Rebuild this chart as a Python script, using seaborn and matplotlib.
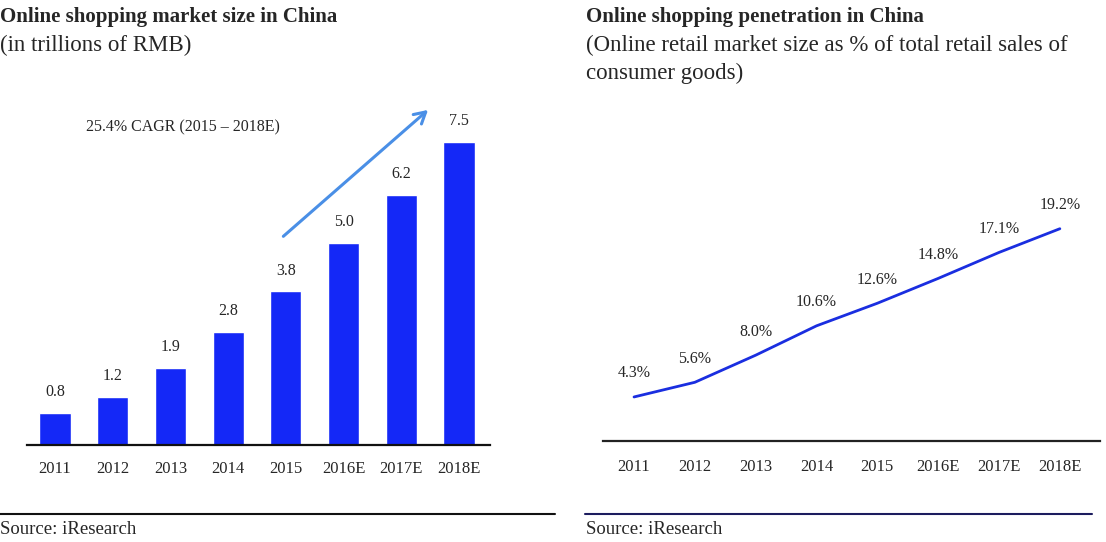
#!/usr/bin/env python3

import seaborn as sns
import pandas as pd
from matplotlib import pyplot as plt

# Data
years = ['2011', '2012', '2013', '2014', '2015', '2016E', '2017E', '2018E']
market_size = [0.8, 1.2, 1.9, 2.8, 3.8, 5.0, 6.2, 7.5]
penetration = [4.3, 5.6, 8.0, 10.6, 12.6, 14.8, 17.1, 19.2]
cagr_text = '25.4% CAGR (2015 \u2013 2018E)'
source_text = 'Source: iResearch'

W, H = 1106, 542
BAR_BLUE = '#1428f7'
LINE_BLUE = '#1a2ee0'
ARROW_BLUE = '#4a8fe6'


def px(x, y):
    # pixel position (from top-left) -> figure fraction
    return x / W, 1 - y / H


def add_axes_px(left, right, top, bottom):
    return fig.add_axes([left / W, 1 - bottom / H, (right - left) / W, (bottom - top) / H])


sns.set_style('white')
plt.rcParams['font.family'] = ['Liberation Serif', 'DejaVu Serif']

fig = plt.figure(figsize=(W / 100, H / 100), dpi=100)

# ---- left: bar chart
df_bar = pd.DataFrame({'year': years, 'size': market_size})
ax1 = add_axes_px(27, 490, 100, 445)
sns.barplot(data=df_bar, x='year', y='size', color=BAR_BLUE, saturation=1,
            width=0.54, ax=ax1)
ax1.set_xlim(-0.485, 7.537)
ax1.set_ylim(0, 8.54)
for i, v in enumerate(market_size):
    ax1.annotate(f'{v:.1f}', (i, v), xytext=(0, 15), textcoords='offset points',
                 ha='center', va='center', fontsize=11.5)
ax1.annotate('', xy=(6.5, 8.34), xytext=(3.92, 5.12),
             arrowprops=dict(arrowstyle='->,head_length=0.8,head_width=0.45',
                             color=ARROW_BLUE, lw=2.2))
ax1.text(0.54, 7.85, cagr_text, ha='left', va='center', fontsize=11.5)

# ---- right: line chart
df_line = pd.DataFrame({'year': years, 'pen': penetration})
ax2 = add_axes_px(603, 1100, 100, 441)
sns.lineplot(data=df_line, x='year', y='pen', color=LINE_BLUE, lw=2, sort=False, ax=ax2)
ax2.set_xlim(-0.51, 7.66)
ax2.set_ylim(0.4, 30.6)
for i, v in enumerate(penetration):
    ax2.annotate(f'{v:.1f}%', (i, v), xytext=(0, 17), textcoords='offset points',
                 ha='center', va='center', fontsize=11.5)

for ax, lc, pad in [(ax1, '#111111', 11.5), (ax2, '#222222', 13)]:
    sns.despine(ax=ax, left=True)
    ax.spines['bottom'].set_color(lc)
    ax.spines['bottom'].set_linewidth(1.6)
    ax.set_yticks([])
    ax.set_xlabel('')
    ax.set_ylabel('')
    ax.tick_params(axis='x', length=0, pad=pad, labelsize=12)
    ax.patch.set_alpha(0)

# titles
fig.text(*px(0, 17), 'Online shopping market size in China', fontsize=15,
         fontweight='bold', va='center', ha='left')
fig.text(*px(0, 45), '(in trillions of RMB)', fontsize=16.5, va='center', ha='left')
fig.text(*px(586, 17), 'Online shopping penetration in China', fontsize=15,
         fontweight='bold', va='center', ha='left')
fig.text(*px(586, 45), '(Online retail market size as % of total retail sales of',
         fontsize=16.5, va='center', ha='left')
fig.text(*px(586, 73), 'consumer goods)', fontsize=16.5, va='center', ha='left')

# source rules and notes
fig.add_artist(plt.Line2D([0, 555 / W], [1 - 514 / H] * 2, color='#111111', lw=1.5))
fig.add_artist(plt.Line2D([585 / W, 1092 / W], [1 - 514 / H] * 2, color='#1c1c5e', lw=1.5))
fig.text(*px(0, 530), source_text, fontsize=13.5, va='center', ha='left')
fig.text(*px(586, 530), source_text, fontsize=13.5, va='center', ha='left')

fig.savefig('out.png', dpi=100)
